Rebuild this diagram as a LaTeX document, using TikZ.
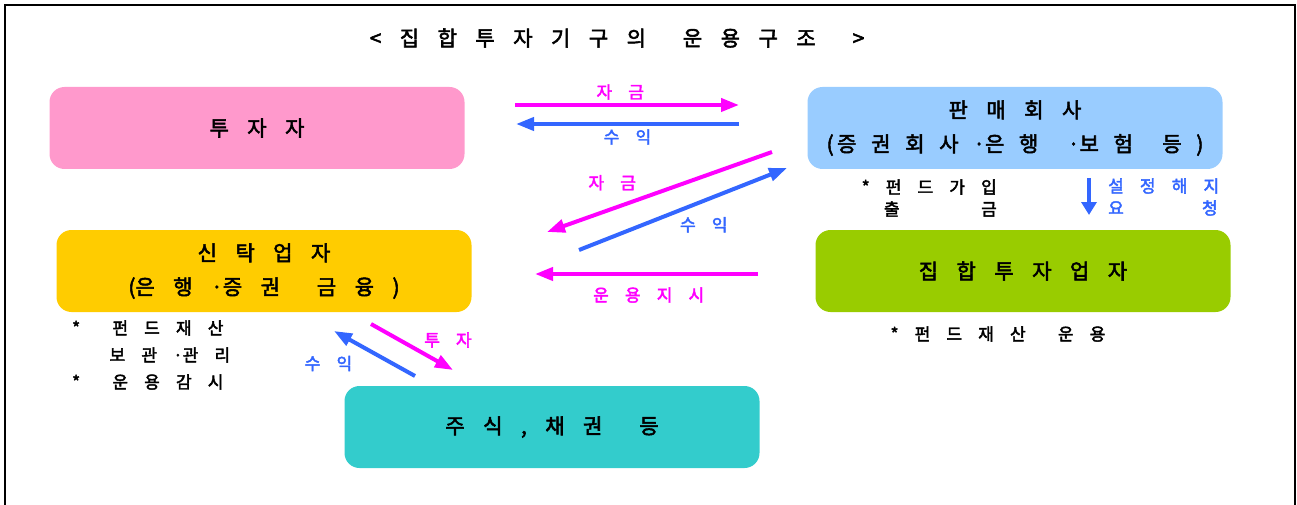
\documentclass[tikz,border=0pt]{standalone}
\usepackage{fontspec}
\setmainfont{Noto Sans CJK KR}[FakeBold=2.5]
\usetikzlibrary{arrows.meta,positioning}
\definecolor{fund}{HTML}{FF00FF}
\definecolor{gain}{HTML}{3366FF}
\definecolor{pinkbox}{HTML}{FF99CC}
\definecolor{skybox}{HTML}{99CCFF}
\definecolor{goldbox}{HTML}{FFCC00}
\definecolor{limebox}{HTML}{99CC00}
\definecolor{tealbox}{HTML}{33CCCC}
\newcommand{\krsize}[3]{\fontsize{#1}{#2}\selectfont\spaceskip=#3em\relax}
\tikzset{
	org/.style={rectangle, rounded corners=15pt, minimum width=415pt, minimum height=82pt, align=center, font=\krsize{21}{34}{0.88}},
	flow/.style={line width=4pt, -{Triangle[length=18pt,width=13pt]}},
	lab/.style={font=\krsize{17}{22}{0.95}},
	note/.style={font=\krsize{17}{22}{0.95}, inner sep=0pt}
}

\begin{document}
\begin{tikzpicture}[x=1pt, y=-1pt, on grid]
	\useasboundingbox (0,0) rectangle (1297,505);
	\draw[line width=1.5pt] (5,505) -- (5,5) -- (1295,5) -- (1295,505);
	\node[font=\krsize{21}{30}{0.88}] (title) at (617,38) {< 집 합 투 자 기 구 의 \ 운 용 구 조 \ >};
	\node[org, fill=pinkbox] (investor) at (257,128) {투 자 자};
	\node[org, fill=skybox] (seller) [right=758pt of investor] {판 매 회 사\\{\spaceskip=0.7em (\,증 권 회 사 ·은 행 \ ·보 험 \ 등 )}};
	\node[org, fill=goldbox] (trustee) [below right=143pt and 7pt of investor] {신 탁 업 자\\(은 행 ·증 권 \ 금 융 )};
	\node[org, fill=limebox] (manager) [below right=143pt and 8pt of seller] {집 합 투 자 업 자};
	\node[org, fill=tealbox] (assets) [below right=156pt and 288pt of trustee] {주 식 , 채 권 \ 등};
	\node[note, anchor=east, align=right] (join) at (997,198) {* 펀 드 가 입\\출\hspace{4.8em}금};
	\node[note, anchor=west, align=left, text=gain] (cancel) at (1108,197) {설 정 해 지\\요\hspace{4.6em}청};
	\node[note, anchor=west, align=left, font=\krsize{17}{27}{0.95}] (custody) at (72,355) {* \ 펀 드 재 산\\\hspace{2.2em}보 관 ·관 리\\* \ 운 용 감 시};
	\node[note] (operate) at (998,334) {* 펀 드 재 산 \ 운 용};
	\coordinate (f1) at (515,105);
	\coordinate (f2) at (739,105);
	\coordinate (g1) at (739,124);
	\coordinate (g2) at (516,124);
	\coordinate (f3) at (772,152);
	\coordinate (f4) at (547,232);
	\coordinate (g3) at (579,250);
	\coordinate (g4) at (787,168);
	\coordinate (f5) at (758,274);
	\coordinate (f6) at (535,274);
	\coordinate (f7) at (371,324);
	\coordinate (f8) at (453,370);
	\coordinate (g5) at (415,376);
	\coordinate (g6) at (334,331);
	\coordinate (g7) at (1089,178);
	\coordinate (g8) at (1089,215);
	\path[flow, color=fund]
	(f1) edge node[lab, above, pos=0.47] {자 금} (f2)
	(f3) edge node[lab, above=13pt, pos=0.71] {자 금} (f4)
	(f5) edge node[lab, below=8pt, pos=0.49] {운 용 지 시} (f6)
	(f7) edge node[lab, pos=0.5, xshift=36pt, yshift=7pt] {투 자} (f8);
	\path[flow, color=gain]
	(g1) edge node[lab, below, pos=0.5] {수 익} (g2)
	(g3) edge node[lab, below=11pt, pos=0.6] {수 익} (g4)
	(g5) edge node[lab, pos=0.5, xshift=-46pt, yshift=-10pt] {수 익} (g6)
	(g7) edge[-{Triangle[length=13pt,width=15pt]}] (g8);
\end{tikzpicture}
\end{document}
